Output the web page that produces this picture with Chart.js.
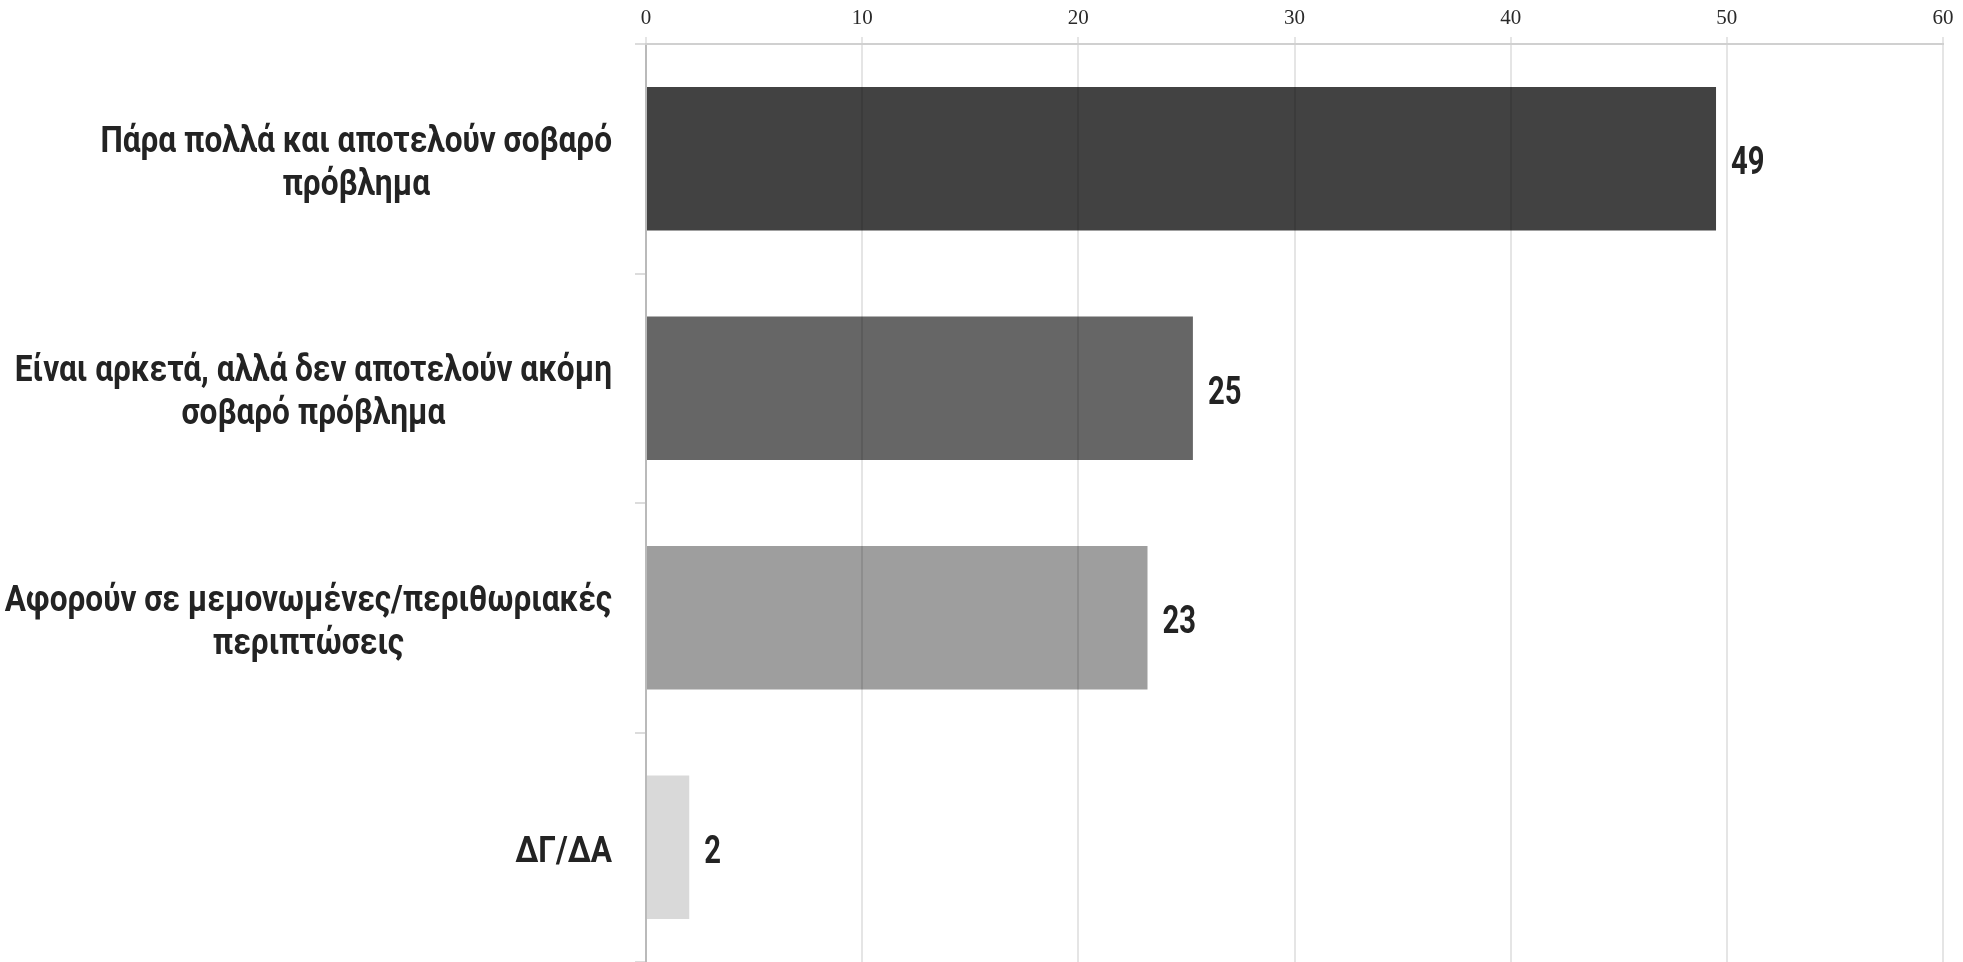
<!DOCTYPE html>
<html>
<head>
<meta charset="utf-8">
<script src="https://cdn.jsdelivr.net/npm/chart.js@4/dist/chart.umd.min.js"></script>
<style>
  html, body { margin: 0; padding: 0; background: #fff; }
  #wrap { width: 1963px; height: 962px; }
</style>
</head>
<body>
<div id="wrap"><canvas id="BarChart"></canvas></div>
<script>
// Data //
var categories = [
    ["Πάρα πολλά και αποτελούν σοβαρό", "πρόβλημα"],
    ["Είναι αρκετά, αλλά δεν αποτελούν ακόμη", "σοβαρό πρόβλημα"],
    ["Αφορούν σε μεμονωμένες/περιθωριακές", "περιπτώσεις"],
    ["ΔΓ/ΔΑ"]
];
var values = [49.5, 25.3, 23.2, 2.0];
var valueLabels = ["49", "25", "23", "2"];
var barColors = ["#424242", "#666666", "#9e9e9e", "#d9d9d9"];
var xTicks = [0, 10, 20, 30, 40, 50, 60];

var labelFont = 'bold 37px Roboto, "Liberation Sans", sans-serif';
var valueFont = 'bold 38px Roboto, "Liberation Sans", sans-serif';

// Draw category labels & value labels (condensed look) //
var labelPlugin = {
    id: 'labelPlugin',
    afterDraw: function(chart) {
        var ctx = chart.ctx;
        var yScale = chart.scales.y;
        var meta = chart.getDatasetMeta(0);
        var lineH = 43;
        var shift = 5;
        var right = chart.chartArea.left - 11 - 23;
        ctx.save();
        ctx.fillStyle = '#232323';
        ctx.textBaseline = 'middle';
        ctx.font = labelFont;
        // squeeze text so the long first lines end up about as wide as in the picture
        var natural = ctx.measureText(categories[0][0]).width +
                      ctx.measureText(categories[1][0]).width +
                      ctx.measureText(categories[2][0]).width;
        var condense = (526 + 597 + 593) / natural;
        ctx.textAlign = 'center';
        categories.forEach(function(lines, i) {
            var y = yScale.getPixelForTick(i) + shift;
            var w = 0;
            lines.forEach(function(l) { w = Math.max(w, ctx.measureText(l).width * condense); });
            var cx = right - w / 2;
            var top = y - (lines.length - 1) * lineH / 2;
            lines.forEach(function(l, j) {
                ctx.save();
                ctx.translate(cx, top + j * lineH);
                ctx.scale(condense, 1);
                ctx.fillText(l, 0, 0);
                ctx.restore();
            });
        });
        ctx.font = valueFont;
        ctx.textAlign = 'left';
        meta.data.forEach(function(bar, i) {
            ctx.save();
            ctx.translate(bar.x + 15, bar.y + shift + 1);
            ctx.scale(condense * 0.9, 1);
            ctx.fillText(valueLabels[i], 0, 0);
            ctx.restore();
        });
        ctx.restore();
    }
};

var ctx = document.getElementById('BarChart').getContext('2d');
var chart = new Chart(ctx, {
    type: 'bar',
    data: {
        labels: categories.map(function(c) { return c.join(' '); }),
        datasets: [{
            data: values,
            backgroundColor: barColors,
            borderWidth: 0,
            barPercentage: 0.625,
            categoryPercentage: 1.0
        }]
    },
    options: {
        indexAxis: 'y',
        responsive: true,
        maintainAspectRatio: false,
        devicePixelRatio: 1,
        animation: false,
        layout: { padding: { top: 0, right: 20, bottom: 0, left: 0 } },
        plugins: {
            legend: { display: false },
            tooltip: { enabled: false }
        },
        scales: {
            x: {
                position: 'top',
                min: 0,
                max: 60,
                afterBuildTicks: function(scale) {
                    scale.ticks = xTicks.map(function(v) { return { value: v }; });
                },
                ticks: {
                    padding: 8,
                    color: '#2a2a2a',
                    font: { family: '"Liberation Serif", serif', size: 21, lineHeight: 1.0 }
                },
                grid: {
                    z: 1,
                    color: 'rgba(0,0,0,0.1)',
                    lineWidth: 2,
                    tickLength: 7
                },
                border: { color: '#d0d0d0', width: 2, z: 1 }
            },
            y: {
                afterFit: function(scale) { scale.width = 646; },
                ticks: { display: false },
                grid: {
                    drawOnChartArea: false,
                    color: '#dcdcdc',
                    lineWidth: 2,
                    tickLength: 11
                },
                border: { color: '#d0d0d0', width: 2 }
            }
        }
    },
    plugins: [labelPlugin]
});
</script>
</body>
</html>
